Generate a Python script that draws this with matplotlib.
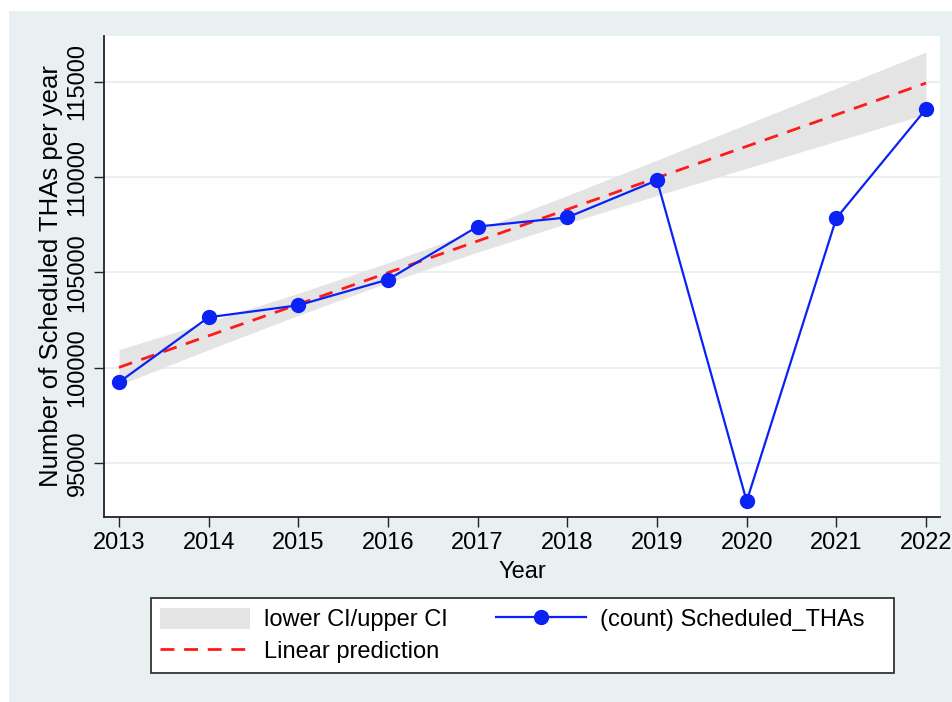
import numpy as np
import matplotlib.pyplot as plt
from matplotlib.patches import Rectangle, Patch
from matplotlib.lines import Line2D

plt.rcParams['font.family'] = ['Liberation Sans', 'DejaVu Sans']

## data
years = [2013, 2014, 2015, 2016, 2017, 2018, 2019, 2020, 2021, 2022]
count = [99240, 102650, 103280, 104630, 107410, 107890, 109840, 93000, 107850, 113580]
# linear prediction and its CI (read at each year)
pred = [100020, 101680, 103330, 104990, 106650, 108310, 109970, 111620, 113280, 114940]
lower_ci = [99090, 100950, 102750, 104470, 106070, 107580, 109040, 110470, 111890, 113310]
upper_ci = [100950, 102410, 103910, 105510, 107230, 109040, 110900, 112780, 114670, 116570]

yticks = [95000, 100000, 105000, 110000, 115000]

bg = '#e9f0f2'
blue = '#0b22f5'
red = '#ff1a1a'

fig = plt.figure(figsize=(9.52, 7.02), dpi=100, facecolor='white')
fig.patches.append(Rectangle((9/952, 0), 1, 691/702, transform=fig.transFigure,
                             facecolor=bg, edgecolor='none', zorder=-10))

ax = fig.add_axes([104/952, 185/702, 836/952, 481/702])
ax.set_facecolor('white')

ax.fill_between(years, lower_ci, upper_ci, color='#e4e4e4', linewidth=0, zorder=1)
ax.plot(years, pred, color=red, linestyle=(0, (5, 3.5)), linewidth=2.0, zorder=3)
ax.plot(years, count, color=blue, linewidth=1.6, marker='o', markersize=10, zorder=4)

ax.set_xlim(2012.833, 2022.156)
ax.set_ylim(92170, 117410)
ax.set_xticks(years)
ax.set_yticks(yticks)
ax.set_yticklabels([str(v) for v in yticks], rotation=90, va='center')
ax.grid(axis='y', color=bg, linewidth=1.5, zorder=0)
ax.set_axisbelow(True)

for s in ['top', 'right']:
    ax.spines[s].set_visible(False)
for s in ['left', 'bottom']:
    ax.spines[s].set_linewidth(1.3)
    ax.spines[s].set_color('#222222')
ax.tick_params(length=7, width=1.0, labelsize=17, pad=4, color='#222222')

ax.set_xlabel('Year', fontsize=17, labelpad=5)
ax.set_ylabel('Number of Scheduled THAs per year', fontsize=18.5, labelpad=3)

handles = [Patch(facecolor='#e4e4e4', edgecolor='none'),
           Line2D([], [], color=red, linestyle=(0, (5, 3.5)), linewidth=2.0),
           Line2D([], [], color=blue, linewidth=1.6, marker='o', markersize=10)]
labels = ['lower CI/upper CI', 'Linear prediction', '(count) Scheduled_THAs   ']
leg = fig.legend(handles, labels, ncol=2, loc='center',
                 bbox_to_anchor=(151/952, 28/702, 743/952, 77/702), mode='expand',
                 borderaxespad=0, fontsize=17, frameon=True, fancybox=False,
                 framealpha=1.0, facecolor='white',
                 handlelength=3.8, handleheight=1.0, handletextpad=0.6,
                 borderpad=0.4, labelspacing=0.35, columnspacing=2.0)
leg.get_frame().set_edgecolor('#333333')
leg.get_frame().set_linewidth(1.3)

plt.savefig('out.png', dpi=100)
